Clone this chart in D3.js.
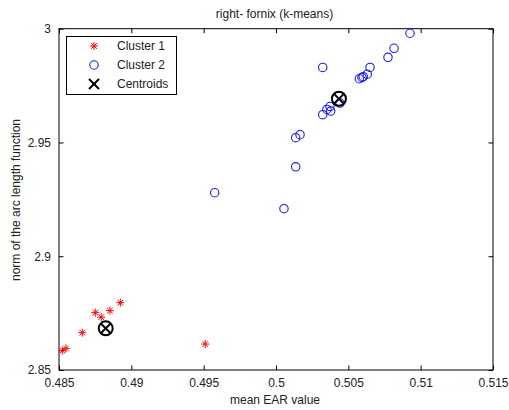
<!DOCTYPE html>
<html>
<head>
<meta charset="utf-8">
<script src="https://cdn.jsdelivr.net/npm/d3@7/dist/d3.min.js"></script>
<style>
  html, body { margin: 0; padding: 0; background: #fff; }
  svg { display: block; }
  text { font-family: "Liberation Sans", Arial, Helvetica, sans-serif; fill: #222; }
</style>
</head>
<body>
<svg id="chart" width="509" height="410"></svg>
<script>
// Cluster 1 (mean EAR value, norm of the arc length function)
const cluster1X = [0.48523, 0.48548, 0.48661, 0.48751, 0.48792, 0.48852, 0.48924, 0.49511];
const cluster1Y = [2.8585, 2.8595, 2.8664, 2.8752, 2.8732, 2.8761, 2.8796, 2.8614];

// Cluster 2
const cluster2X = [0.50926, 0.50816, 0.50774, 0.50650, 0.50631, 0.50594, 0.50576, 0.50603,
                   0.50323, 0.50166, 0.50136, 0.50136, 0.49576, 0.50055,
                   0.50323, 0.50352, 0.50373, 0.50378, 0.50442];
const cluster2Y = [2.9980, 2.9914, 2.9874, 2.9830, 2.9800, 2.9786, 2.9780, 2.9789,
                   2.9830, 2.9534, 2.9521, 2.9393, 2.9279, 2.9209,
                   2.9622, 2.9645, 2.9658, 2.9638, 2.9673];

// Cluster centroids
const centroidX = [0.48823, 0.50435];
const centroidY = [2.8683, 2.9692];

// Axis ticks
const xTicks = [0.485, 0.49, 0.495, 0.5, 0.505, 0.51, 0.515];
const xTickLabels = ["0.485", "0.49", "0.495", "0.5", "0.505", "0.51", "0.515"];
const yTicks = [2.85, 2.9, 2.95, 3];
const yTickLabels = ["2.85", "2.9", "2.95", "3"];

const legendLabels = ["Cluster 1", "Cluster 2", "Centroids"];

const svg = d3.select("#chart");
const plotLeft = 59, plotRight = 493, plotTop = 28.7, plotBottom = 370;

const x = d3.scaleLinear().domain([0.485, 0.515]).range([plotLeft, plotRight]);
const y = d3.scaleLinear().domain([2.85, 3]).range([plotBottom, plotTop]);

const tickLen = 4.5;

// Axes box with inward ticks on all four sides
const g = svg.append("g");
function styleAxis(sel) {
  sel.select(".domain").remove();
  sel.selectAll(".tick line").attr("stroke", "#000").attr("stroke-width", 1);
  sel.selectAll(".tick text").attr("font-size", 12).attr("fill", "#222")
     .attr("font-family", "'Liberation Sans', Arial, sans-serif");
}

g.append("g").attr("transform", `translate(0,${plotBottom})`)
  .call(d3.axisBottom(x).tickValues(xTicks).tickFormat((d, i) => xTickLabels[i])
        .tickSizeInner(-tickLen).tickSizeOuter(0).tickPadding(8))
  .call(styleAxis);
g.append("g").attr("transform", `translate(0,${plotTop})`)
  .call(d3.axisTop(x).tickValues(xTicks).tickFormat("")
        .tickSizeInner(-tickLen).tickSizeOuter(0))
  .call(styleAxis);
g.append("g").attr("transform", `translate(${plotLeft},0)`)
  .call(d3.axisLeft(y).tickValues(yTicks).tickFormat((d, i) => yTickLabels[i])
        .tickSizeInner(-tickLen).tickSizeOuter(0).tickPadding(8))
  .call(styleAxis);
g.append("g").attr("transform", `translate(${plotRight},0)`)
  .call(d3.axisRight(y).tickValues(yTicks).tickFormat("")
        .tickSizeInner(-tickLen).tickSizeOuter(0))
  .call(styleAxis);

svg.append("rect")
  .attr("x", plotLeft).attr("y", plotTop)
  .attr("width", plotRight - plotLeft).attr("height", plotBottom - plotTop)
  .attr("fill", "none").attr("stroke", "#000").attr("stroke-width", 1);

// Marker drawing helpers
function star(sel, cx, cy, s) {
  const gg = sel.append("g").attr("stroke", "#ff0000").attr("stroke-width", 1);
  gg.append("line").attr("x1", cx - s).attr("x2", cx + s).attr("y1", cy).attr("y2", cy);
  gg.append("line").attr("x1", cx).attr("x2", cx).attr("y1", cy - s).attr("y2", cy + s);
  const d = s * 0.7;
  gg.append("line").attr("x1", cx - d).attr("x2", cx + d).attr("y1", cy - d).attr("y2", cy + d);
  gg.append("line").attr("x1", cx - d).attr("x2", cx + d).attr("y1", cy + d).attr("y2", cy - d);
}

const plot = svg.append("g");

// Cluster 2 circles
plot.selectAll("circle.c2")
  .data(cluster2X.map((v, i) => [v, cluster2Y[i]]))
  .join("circle")
  .attr("class", "c2")
  .attr("cx", d => x(d[0])).attr("cy", d => y(d[1]))
  .attr("r", 4.2)
  .attr("fill", "none").attr("stroke", "#1a1aff").attr("stroke-width", 1.1);

// Cluster 1 stars
cluster1X.forEach((v, i) => star(plot, x(v), y(cluster1Y[i]), 4));

// Centroids: circle with an X
centroidX.forEach((v, i) => {
  const cx = x(v), cy = y(centroidY[i]);
  const cg = plot.append("g").attr("stroke", "#000").attr("stroke-width", 2).attr("fill", "none");
  cg.append("circle").attr("cx", cx).attr("cy", cy).attr("r", 7);
  const d = 4.9;
  cg.append("line").attr("x1", cx - d).attr("x2", cx + d).attr("y1", cy - d).attr("y2", cy + d);
  cg.append("line").attr("x1", cx - d).attr("x2", cx + d).attr("y1", cy + d).attr("y2", cy - d);
});

// Legend
const lg = svg.append("g");
lg.append("rect").attr("x", 66.5).attr("y", 36.5).attr("width", 110).attr("height", 58)
  .attr("fill", "#fff").attr("stroke", "#000").attr("stroke-width", 1);
const rowY = [46, 65, 84];
star(lg, 94, rowY[0], 4);
lg.append("circle").attr("cx", 94).attr("cy", rowY[1]).attr("r", 4.2)
  .attr("fill", "none").attr("stroke", "#1a1aff").attr("stroke-width", 1.1);
lg.append("g").attr("stroke", "#000").attr("stroke-width", 2).call(s => {
  s.append("line").attr("x1", 89).attr("x2", 99).attr("y1", rowY[2] - 5).attr("y2", rowY[2] + 5);
  s.append("line").attr("x1", 89).attr("x2", 99).attr("y1", rowY[2] + 5).attr("y2", rowY[2] - 5);
});
legendLabels.forEach((t, i) => {
  lg.append("text").attr("x", 117).attr("y", rowY[i]).attr("dy", "0.35em")
    .attr("font-size", 12).text(t);
});

// Title and axis labels
svg.append("text").attr("x", 274.5).attr("y", 18).attr("text-anchor", "middle")
  .attr("font-size", 12).text("right- fornix (k-means)");
svg.append("text").attr("x", 275).attr("y", 404).attr("text-anchor", "middle")
  .attr("font-size", 12).text("mean EAR value");
svg.append("text").attr("transform", "translate(20,200) rotate(-90)")
  .attr("text-anchor", "middle").attr("font-size", 12)
  .text("norm of the arc length function");
</script>
</body>
</html>
